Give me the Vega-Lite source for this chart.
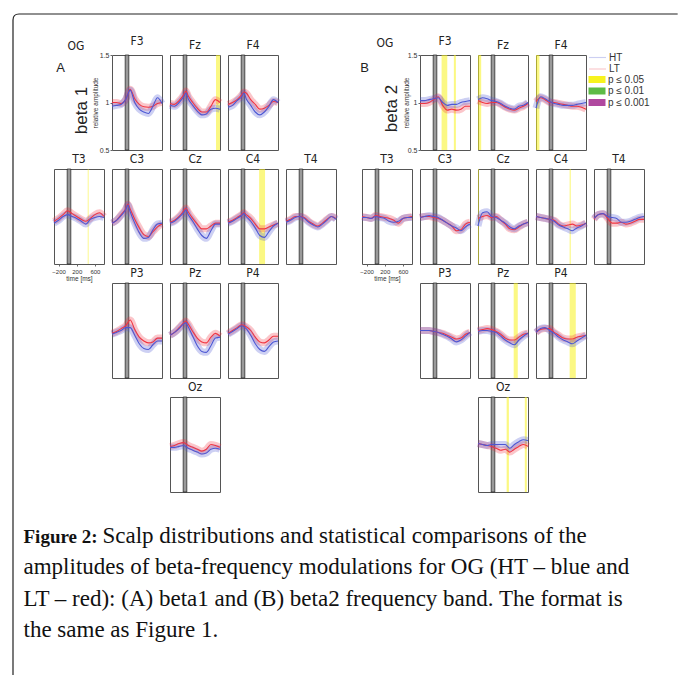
{
"$schema":"https://vega.github.io/schema/vega-lite/v6.json",
"padding":{"left":12,"top":13,"right":0,"bottom":0},
"background":"white",
"config":{
"view":{"continuousWidth":50,"continuousHeight":95,"stroke":"#555","strokeWidth":1},
"title":{"font":"Liberation Sans Narrow, DejaVu Sans Condensed, sans-serif","fontSize":12,"fontWeight":"normal","color":"#222","offset":3,"anchor":"middle","frame":"group"},
"axis":{"grid":false,"domain":false,"labelFont":"Liberation Sans Narrow, sans-serif","titleFont":"Liberation Sans Narrow, sans-serif","labelColor":"#333","titleColor":"#333","titleFontWeight":"normal","tickColor":"#666"},
"line":{"interpolate":"monotone","strokeWidth":1.1},
"rect":{"fill":"#9a9a9a","stroke":"#1a1a1a","strokeWidth":0.7},
"mark":{"invalid":"filter"},
"range":{"category":["#4d57d3","#f03442"]}
},
"datasets":{
"cap":[
{"ln":0,"b":1,"tx":"Figure 2:"},
{"ln":0,"b":0,"tx":"Scalp distributions and statistical comparisons of the"},
{"ln":1,"b":0,"tx":"amplitudes of beta-frequency modulations for OG (HT – blue and"},
{"ln":2,"b":0,"tx":"LT – red): (A) beta1 and (B) beta2 frequency band. The format is"},
{"ln":3,"b":0,"tx":"the same as Figure 1."}
],
"d":[
{"p":"AF3","g":"LT","t":-300,"v":1.0},{"p":"AF3","g":"LT","t":-200,"v":1.0},{"p":"AF3","g":"LT","t":-100,"v":0.99},{"p":"AF3","g":"LT","t":0,"v":1.03},{"p":"AF3","g":"LT","t":100,"v":1.14},{"p":"AF3","g":"LT","t":200,"v":1.04},{"p":"AF3","g":"LT","t":300,"v":0.98},{"p":"AF3","g":"LT","t":400,"v":0.955},{"p":"AF3","g":"LT","t":500,"v":0.95},{"p":"AF3","g":"LT","t":600,"v":0.96},{"p":"AF3","g":"LT","t":700,"v":0.99},{"p":"AF3","g":"LT","t":800,"v":1.0},
{"p":"AF3","g":"HT","t":-300,"v":0.96},{"p":"AF3","g":"HT","t":-200,"v":0.97},{"p":"AF3","g":"HT","t":-100,"v":0.98},{"p":"AF3","g":"HT","t":0,"v":1.03},{"p":"AF3","g":"HT","t":100,"v":1.13},{"p":"AF3","g":"HT","t":200,"v":1.0},{"p":"AF3","g":"HT","t":300,"v":0.93},{"p":"AF3","g":"HT","t":400,"v":0.9},{"p":"AF3","g":"HT","t":500,"v":0.885},{"p":"AF3","g":"HT","t":600,"v":0.96},{"p":"AF3","g":"HT","t":700,"v":1.05},{"p":"AF3","g":"HT","t":800,"v":0.99},
{"p":"AFz","g":"LT","t":-300,"v":0.99},{"p":"AFz","g":"LT","t":-200,"v":0.98},{"p":"AFz","g":"LT","t":-100,"v":1.02},{"p":"AFz","g":"LT","t":0,"v":1.08},{"p":"AFz","g":"LT","t":50,"v":1.12},{"p":"AFz","g":"LT","t":100,"v":1.07},{"p":"AFz","g":"LT","t":200,"v":1.0},{"p":"AFz","g":"LT","t":300,"v":0.94},{"p":"AFz","g":"LT","t":400,"v":0.9},{"p":"AFz","g":"LT","t":500,"v":0.9},{"p":"AFz","g":"LT","t":600,"v":0.96},{"p":"AFz","g":"LT","t":700,"v":1.03},{"p":"AFz","g":"LT","t":800,"v":1.0},
{"p":"AFz","g":"HT","t":-300,"v":0.97},{"p":"AFz","g":"HT","t":-200,"v":0.96},{"p":"AFz","g":"HT","t":-100,"v":1.0},{"p":"AFz","g":"HT","t":0,"v":1.06},{"p":"AFz","g":"HT","t":50,"v":1.1},{"p":"AFz","g":"HT","t":100,"v":1.04},{"p":"AFz","g":"HT","t":200,"v":0.97},{"p":"AFz","g":"HT","t":300,"v":0.91},{"p":"AFz","g":"HT","t":400,"v":0.87},{"p":"AFz","g":"HT","t":500,"v":0.88},{"p":"AFz","g":"HT","t":600,"v":0.93},{"p":"AFz","g":"HT","t":700,"v":0.94},{"p":"AFz","g":"HT","t":800,"v":0.93},
{"p":"AF4","g":"LT","t":-300,"v":0.98},{"p":"AF4","g":"LT","t":-200,"v":1.0},{"p":"AF4","g":"LT","t":-100,"v":1.03},{"p":"AF4","g":"LT","t":0,"v":1.08},{"p":"AF4","g":"LT","t":50,"v":1.11},{"p":"AF4","g":"LT","t":100,"v":1.1},{"p":"AF4","g":"LT","t":200,"v":1.03},{"p":"AF4","g":"LT","t":300,"v":0.98},{"p":"AF4","g":"LT","t":400,"v":0.93},{"p":"AF4","g":"LT","t":500,"v":0.94},{"p":"AF4","g":"LT","t":600,"v":0.97},{"p":"AF4","g":"LT","t":700,"v":1.01},{"p":"AF4","g":"LT","t":800,"v":1.0},
{"p":"AF4","g":"HT","t":-300,"v":0.95},{"p":"AF4","g":"HT","t":-200,"v":0.97},{"p":"AF4","g":"HT","t":-100,"v":1.02},{"p":"AF4","g":"HT","t":0,"v":1.06},{"p":"AF4","g":"HT","t":50,"v":1.1},{"p":"AF4","g":"HT","t":100,"v":1.04},{"p":"AF4","g":"HT","t":200,"v":0.97},{"p":"AF4","g":"HT","t":300,"v":0.9},{"p":"AF4","g":"HT","t":400,"v":0.87},{"p":"AF4","g":"HT","t":500,"v":0.9},{"p":"AF4","g":"HT","t":600,"v":0.96},{"p":"AF4","g":"HT","t":700,"v":1.03},{"p":"AF4","g":"HT","t":800,"v":1.0},
{"p":"AT3","g":"LT","t":-300,"v":0.95},{"p":"AT3","g":"LT","t":-200,"v":0.98},{"p":"AT3","g":"LT","t":-100,"v":1.02},{"p":"AT3","g":"LT","t":0,"v":1.06},{"p":"AT3","g":"LT","t":100,"v":1.03},{"p":"AT3","g":"LT","t":200,"v":1.0},{"p":"AT3","g":"LT","t":300,"v":0.97},{"p":"AT3","g":"LT","t":400,"v":0.95},{"p":"AT3","g":"LT","t":500,"v":0.98},{"p":"AT3","g":"LT","t":600,"v":1.02},{"p":"AT3","g":"LT","t":700,"v":1.04},{"p":"AT3","g":"LT","t":800,"v":1.0},
{"p":"AT3","g":"HT","t":-300,"v":0.93},{"p":"AT3","g":"HT","t":-200,"v":0.96},{"p":"AT3","g":"HT","t":-100,"v":1.0},{"p":"AT3","g":"HT","t":0,"v":1.02},{"p":"AT3","g":"HT","t":100,"v":1.0},{"p":"AT3","g":"HT","t":200,"v":0.98},{"p":"AT3","g":"HT","t":300,"v":0.95},{"p":"AT3","g":"HT","t":400,"v":0.92},{"p":"AT3","g":"HT","t":500,"v":0.97},{"p":"AT3","g":"HT","t":600,"v":0.99},{"p":"AT3","g":"HT","t":700,"v":1.0},{"p":"AT3","g":"HT","t":800,"v":0.99},
{"p":"AC3","g":"LT","t":-300,"v":0.93},{"p":"AC3","g":"LT","t":-200,"v":0.96},{"p":"AC3","g":"LT","t":-100,"v":1.02},{"p":"AC3","g":"LT","t":0,"v":1.08},{"p":"AC3","g":"LT","t":50,"v":1.13},{"p":"AC3","g":"LT","t":100,"v":1.08},{"p":"AC3","g":"LT","t":200,"v":0.97},{"p":"AC3","g":"LT","t":300,"v":0.88},{"p":"AC3","g":"LT","t":400,"v":0.81},{"p":"AC3","g":"LT","t":500,"v":0.79},{"p":"AC3","g":"LT","t":600,"v":0.84},{"p":"AC3","g":"LT","t":700,"v":0.89},{"p":"AC3","g":"LT","t":800,"v":0.92},
{"p":"AC3","g":"HT","t":-300,"v":0.93},{"p":"AC3","g":"HT","t":-200,"v":0.96},{"p":"AC3","g":"HT","t":-100,"v":1.01},{"p":"AC3","g":"HT","t":0,"v":1.07},{"p":"AC3","g":"HT","t":50,"v":1.12},{"p":"AC3","g":"HT","t":100,"v":1.05},{"p":"AC3","g":"HT","t":200,"v":0.93},{"p":"AC3","g":"HT","t":300,"v":0.83},{"p":"AC3","g":"HT","t":400,"v":0.77},{"p":"AC3","g":"HT","t":500,"v":0.78},{"p":"AC3","g":"HT","t":600,"v":0.86},{"p":"AC3","g":"HT","t":700,"v":0.92},{"p":"AC3","g":"HT","t":800,"v":0.93},
{"p":"ACz","g":"LT","t":-300,"v":0.94},{"p":"ACz","g":"LT","t":-200,"v":0.96},{"p":"ACz","g":"LT","t":-100,"v":1.0},{"p":"ACz","g":"LT","t":0,"v":1.06},{"p":"ACz","g":"LT","t":50,"v":1.09},{"p":"ACz","g":"LT","t":100,"v":1.05},{"p":"ACz","g":"LT","t":200,"v":0.98},{"p":"ACz","g":"LT","t":300,"v":0.92},{"p":"ACz","g":"LT","t":400,"v":0.87},{"p":"ACz","g":"LT","t":500,"v":0.87},{"p":"ACz","g":"LT","t":600,"v":0.9},{"p":"ACz","g":"LT","t":700,"v":0.93},{"p":"ACz","g":"LT","t":800,"v":0.93},
{"p":"ACz","g":"HT","t":-300,"v":0.93},{"p":"ACz","g":"HT","t":-200,"v":0.95},{"p":"ACz","g":"HT","t":-100,"v":0.99},{"p":"ACz","g":"HT","t":0,"v":1.04},{"p":"ACz","g":"HT","t":50,"v":1.07},{"p":"ACz","g":"HT","t":100,"v":1.02},{"p":"ACz","g":"HT","t":200,"v":0.95},{"p":"ACz","g":"HT","t":300,"v":0.87},{"p":"ACz","g":"HT","t":400,"v":0.8},{"p":"ACz","g":"HT","t":500,"v":0.77},{"p":"ACz","g":"HT","t":600,"v":0.85},{"p":"ACz","g":"HT","t":700,"v":0.92},{"p":"ACz","g":"HT","t":800,"v":0.92},
{"p":"AC4","g":"LT","t":-300,"v":0.94},{"p":"AC4","g":"LT","t":-200,"v":0.96},{"p":"AC4","g":"LT","t":-100,"v":0.99},{"p":"AC4","g":"LT","t":0,"v":1.02},{"p":"AC4","g":"LT","t":50,"v":1.04},{"p":"AC4","g":"LT","t":100,"v":1.02},{"p":"AC4","g":"LT","t":200,"v":0.98},{"p":"AC4","g":"LT","t":300,"v":0.92},{"p":"AC4","g":"LT","t":400,"v":0.87},{"p":"AC4","g":"LT","t":500,"v":0.87},{"p":"AC4","g":"LT","t":600,"v":0.89},{"p":"AC4","g":"LT","t":700,"v":0.91},{"p":"AC4","g":"LT","t":800,"v":0.93},
{"p":"AC4","g":"HT","t":-300,"v":0.93},{"p":"AC4","g":"HT","t":-200,"v":0.95},{"p":"AC4","g":"HT","t":-100,"v":0.98},{"p":"AC4","g":"HT","t":0,"v":1.01},{"p":"AC4","g":"HT","t":50,"v":1.03},{"p":"AC4","g":"HT","t":100,"v":1.0},{"p":"AC4","g":"HT","t":200,"v":0.95},{"p":"AC4","g":"HT","t":300,"v":0.88},{"p":"AC4","g":"HT","t":400,"v":0.8},{"p":"AC4","g":"HT","t":500,"v":0.78},{"p":"AC4","g":"HT","t":600,"v":0.84},{"p":"AC4","g":"HT","t":700,"v":0.9},{"p":"AC4","g":"HT","t":800,"v":0.93},
{"p":"AT4","g":"LT","t":-300,"v":0.95},{"p":"AT4","g":"LT","t":-200,"v":0.97},{"p":"AT4","g":"LT","t":-100,"v":1.0},{"p":"AT4","g":"LT","t":0,"v":1.0},{"p":"AT4","g":"LT","t":100,"v":0.99},{"p":"AT4","g":"LT","t":200,"v":0.95},{"p":"AT4","g":"LT","t":300,"v":0.92},{"p":"AT4","g":"LT","t":400,"v":0.9},{"p":"AT4","g":"LT","t":500,"v":0.93},{"p":"AT4","g":"LT","t":600,"v":0.97},{"p":"AT4","g":"LT","t":700,"v":1.0},{"p":"AT4","g":"LT","t":800,"v":0.98},
{"p":"AT4","g":"HT","t":-300,"v":0.94},{"p":"AT4","g":"HT","t":-200,"v":0.96},{"p":"AT4","g":"HT","t":-100,"v":0.99},{"p":"AT4","g":"HT","t":0,"v":1.0},{"p":"AT4","g":"HT","t":100,"v":0.98},{"p":"AT4","g":"HT","t":200,"v":0.94},{"p":"AT4","g":"HT","t":300,"v":0.91},{"p":"AT4","g":"HT","t":400,"v":0.89},{"p":"AT4","g":"HT","t":500,"v":0.92},{"p":"AT4","g":"HT","t":600,"v":0.96},{"p":"AT4","g":"HT","t":700,"v":1.0},{"p":"AT4","g":"HT","t":800,"v":0.97},
{"p":"AP3","g":"LT","t":-300,"v":0.97},{"p":"AP3","g":"LT","t":-200,"v":0.99},{"p":"AP3","g":"LT","t":-100,"v":1.02},{"p":"AP3","g":"LT","t":0,"v":1.05},{"p":"AP3","g":"LT","t":100,"v":1.11},{"p":"AP3","g":"LT","t":200,"v":1.01},{"p":"AP3","g":"LT","t":300,"v":0.93},{"p":"AP3","g":"LT","t":400,"v":0.89},{"p":"AP3","g":"LT","t":500,"v":0.87},{"p":"AP3","g":"LT","t":600,"v":0.88},{"p":"AP3","g":"LT","t":700,"v":0.92},{"p":"AP3","g":"LT","t":800,"v":0.92},
{"p":"AP3","g":"HT","t":-300,"v":0.96},{"p":"AP3","g":"HT","t":-200,"v":0.98},{"p":"AP3","g":"HT","t":-100,"v":1.0},{"p":"AP3","g":"HT","t":0,"v":1.03},{"p":"AP3","g":"HT","t":100,"v":1.03},{"p":"AP3","g":"HT","t":200,"v":0.95},{"p":"AP3","g":"HT","t":300,"v":0.86},{"p":"AP3","g":"HT","t":400,"v":0.81},{"p":"AP3","g":"HT","t":500,"v":0.8},{"p":"AP3","g":"HT","t":600,"v":0.85},{"p":"AP3","g":"HT","t":700,"v":0.89},{"p":"AP3","g":"HT","t":800,"v":0.89},
{"p":"APz","g":"LT","t":-300,"v":0.95},{"p":"APz","g":"LT","t":-200,"v":0.98},{"p":"APz","g":"LT","t":-100,"v":1.03},{"p":"APz","g":"LT","t":0,"v":1.08},{"p":"APz","g":"LT","t":50,"v":1.1},{"p":"APz","g":"LT","t":100,"v":1.07},{"p":"APz","g":"LT","t":200,"v":0.99},{"p":"APz","g":"LT","t":300,"v":0.92},{"p":"APz","g":"LT","t":400,"v":0.88},{"p":"APz","g":"LT","t":500,"v":0.87},{"p":"APz","g":"LT","t":600,"v":0.93},{"p":"APz","g":"LT","t":700,"v":0.97},{"p":"APz","g":"LT","t":800,"v":0.94},
{"p":"APz","g":"HT","t":-300,"v":0.95},{"p":"APz","g":"HT","t":-200,"v":0.98},{"p":"APz","g":"HT","t":-100,"v":1.02},{"p":"APz","g":"HT","t":0,"v":1.07},{"p":"APz","g":"HT","t":50,"v":1.08},{"p":"APz","g":"HT","t":100,"v":1.04},{"p":"APz","g":"HT","t":200,"v":0.94},{"p":"APz","g":"HT","t":300,"v":0.84},{"p":"APz","g":"HT","t":400,"v":0.78},{"p":"APz","g":"HT","t":500,"v":0.77},{"p":"APz","g":"HT","t":600,"v":0.84},{"p":"APz","g":"HT","t":700,"v":0.92},{"p":"APz","g":"HT","t":800,"v":0.93},
{"p":"AP4","g":"LT","t":-300,"v":0.97},{"p":"AP4","g":"LT","t":-200,"v":1.0},{"p":"AP4","g":"LT","t":-100,"v":1.03},{"p":"AP4","g":"LT","t":0,"v":1.06},{"p":"AP4","g":"LT","t":100,"v":1.04},{"p":"AP4","g":"LT","t":200,"v":1.0},{"p":"AP4","g":"LT","t":300,"v":0.93},{"p":"AP4","g":"LT","t":400,"v":0.88},{"p":"AP4","g":"LT","t":500,"v":0.87},{"p":"AP4","g":"LT","t":600,"v":0.9},{"p":"AP4","g":"LT","t":700,"v":0.94},{"p":"AP4","g":"LT","t":800,"v":0.94},
{"p":"AP4","g":"HT","t":-300,"v":0.96},{"p":"AP4","g":"HT","t":-200,"v":0.99},{"p":"AP4","g":"HT","t":-100,"v":1.02},{"p":"AP4","g":"HT","t":0,"v":1.05},{"p":"AP4","g":"HT","t":100,"v":1.02},{"p":"AP4","g":"HT","t":200,"v":0.95},{"p":"AP4","g":"HT","t":300,"v":0.86},{"p":"AP4","g":"HT","t":400,"v":0.8},{"p":"AP4","g":"HT","t":500,"v":0.78},{"p":"AP4","g":"HT","t":600,"v":0.83},{"p":"AP4","g":"HT","t":700,"v":0.88},{"p":"AP4","g":"HT","t":800,"v":0.89},
{"p":"AOz","g":"LT","t":-300,"v":0.98},{"p":"AOz","g":"LT","t":-200,"v":0.99},{"p":"AOz","g":"LT","t":-100,"v":1.01},{"p":"AOz","g":"LT","t":0,"v":1.02},{"p":"AOz","g":"LT","t":100,"v":0.99},{"p":"AOz","g":"LT","t":200,"v":0.97},{"p":"AOz","g":"LT","t":300,"v":0.95},{"p":"AOz","g":"LT","t":400,"v":0.93},{"p":"AOz","g":"LT","t":500,"v":0.95},{"p":"AOz","g":"LT","t":600,"v":1.0},{"p":"AOz","g":"LT","t":700,"v":0.99},{"p":"AOz","g":"LT","t":800,"v":0.97},
{"p":"AOz","g":"HT","t":-300,"v":0.97},{"p":"AOz","g":"HT","t":-200,"v":0.97},{"p":"AOz","g":"HT","t":-100,"v":0.98},{"p":"AOz","g":"HT","t":0,"v":0.99},{"p":"AOz","g":"HT","t":100,"v":0.96},{"p":"AOz","g":"HT","t":200,"v":0.94},{"p":"AOz","g":"HT","t":300,"v":0.92},{"p":"AOz","g":"HT","t":400,"v":0.9},{"p":"AOz","g":"HT","t":500,"v":0.91},{"p":"AOz","g":"HT","t":600,"v":0.95},{"p":"AOz","g":"HT","t":700,"v":0.96},{"p":"AOz","g":"HT","t":800,"v":0.95},
{"p":"BF3","g":"LT","t":-300,"v":0.99},{"p":"BF3","g":"LT","t":-200,"v":0.99},{"p":"BF3","g":"LT","t":-100,"v":1.0},{"p":"BF3","g":"LT","t":0,"v":1.03},{"p":"BF3","g":"LT","t":100,"v":1.06},{"p":"BF3","g":"LT","t":200,"v":0.97},{"p":"BF3","g":"LT","t":300,"v":0.92},{"p":"BF3","g":"LT","t":400,"v":0.93},{"p":"BF3","g":"LT","t":500,"v":0.92},{"p":"BF3","g":"LT","t":600,"v":0.93},{"p":"BF3","g":"LT","t":700,"v":0.96},{"p":"BF3","g":"LT","t":800,"v":0.96},
{"p":"BF3","g":"HT","t":-300,"v":1.02},{"p":"BF3","g":"HT","t":-200,"v":1.02},{"p":"BF3","g":"HT","t":-100,"v":1.03},{"p":"BF3","g":"HT","t":0,"v":1.04},{"p":"BF3","g":"HT","t":100,"v":1.05},{"p":"BF3","g":"HT","t":200,"v":1.0},{"p":"BF3","g":"HT","t":300,"v":0.97},{"p":"BF3","g":"HT","t":400,"v":0.98},{"p":"BF3","g":"HT","t":500,"v":0.98},{"p":"BF3","g":"HT","t":600,"v":1.0},{"p":"BF3","g":"HT","t":700,"v":1.01},{"p":"BF3","g":"HT","t":800,"v":1.02},
{"p":"BFz","g":"LT","t":-300,"v":1.02},{"p":"BFz","g":"LT","t":-200,"v":1.0},{"p":"BFz","g":"LT","t":-100,"v":0.99},{"p":"BFz","g":"LT","t":0,"v":1.0},{"p":"BFz","g":"LT","t":100,"v":1.0},{"p":"BFz","g":"LT","t":200,"v":0.98},{"p":"BFz","g":"LT","t":300,"v":0.95},{"p":"BFz","g":"LT","t":400,"v":0.93},{"p":"BFz","g":"LT","t":500,"v":0.92},{"p":"BFz","g":"LT","t":600,"v":0.94},{"p":"BFz","g":"LT","t":700,"v":0.96},{"p":"BFz","g":"LT","t":800,"v":0.99},
{"p":"BFz","g":"HT","t":-300,"v":1.03},{"p":"BFz","g":"HT","t":-200,"v":1.05},{"p":"BFz","g":"HT","t":-100,"v":1.04},{"p":"BFz","g":"HT","t":0,"v":1.02},{"p":"BFz","g":"HT","t":100,"v":1.01},{"p":"BFz","g":"HT","t":200,"v":0.99},{"p":"BFz","g":"HT","t":300,"v":0.96},{"p":"BFz","g":"HT","t":400,"v":0.94},{"p":"BFz","g":"HT","t":500,"v":0.93},{"p":"BFz","g":"HT","t":600,"v":0.96},{"p":"BFz","g":"HT","t":700,"v":0.97},{"p":"BFz","g":"HT","t":800,"v":1.0},
{"p":"BF4","g":"LT","t":-300,"v":1.01},{"p":"BF4","g":"LT","t":-200,"v":1.05},{"p":"BF4","g":"LT","t":-100,"v":1.03},{"p":"BF4","g":"LT","t":0,"v":1.0},{"p":"BF4","g":"LT","t":100,"v":1.0},{"p":"BF4","g":"LT","t":200,"v":0.99},{"p":"BF4","g":"LT","t":300,"v":0.98},{"p":"BF4","g":"LT","t":400,"v":0.97},{"p":"BF4","g":"LT","t":500,"v":0.96},{"p":"BF4","g":"LT","t":600,"v":0.96},{"p":"BF4","g":"LT","t":700,"v":0.95},{"p":"BF4","g":"LT","t":800,"v":0.93},
{"p":"BF4","g":"HT","t":-300,"v":0.94},{"p":"BF4","g":"HT","t":-200,"v":1.06},{"p":"BF4","g":"HT","t":-100,"v":1.04},{"p":"BF4","g":"HT","t":0,"v":1.01},{"p":"BF4","g":"HT","t":100,"v":0.99},{"p":"BF4","g":"HT","t":200,"v":0.98},{"p":"BF4","g":"HT","t":300,"v":0.97},{"p":"BF4","g":"HT","t":400,"v":0.97},{"p":"BF4","g":"HT","t":500,"v":0.97},{"p":"BF4","g":"HT","t":600,"v":0.98},{"p":"BF4","g":"HT","t":700,"v":0.99},{"p":"BF4","g":"HT","t":800,"v":1.0},
{"p":"BT3","g":"LT","t":-300,"v":1.0},{"p":"BT3","g":"LT","t":-200,"v":0.99},{"p":"BT3","g":"LT","t":-100,"v":0.98},{"p":"BT3","g":"LT","t":0,"v":1.01},{"p":"BT3","g":"LT","t":100,"v":1.0},{"p":"BT3","g":"LT","t":200,"v":0.99},{"p":"BT3","g":"LT","t":300,"v":0.98},{"p":"BT3","g":"LT","t":400,"v":0.96},{"p":"BT3","g":"LT","t":500,"v":0.93},{"p":"BT3","g":"LT","t":600,"v":0.98},{"p":"BT3","g":"LT","t":700,"v":0.99},{"p":"BT3","g":"LT","t":800,"v":1.0},
{"p":"BT3","g":"HT","t":-300,"v":0.99},{"p":"BT3","g":"HT","t":-200,"v":0.99},{"p":"BT3","g":"HT","t":-100,"v":0.98},{"p":"BT3","g":"HT","t":0,"v":1.0},{"p":"BT3","g":"HT","t":100,"v":0.99},{"p":"BT3","g":"HT","t":200,"v":0.98},{"p":"BT3","g":"HT","t":300,"v":0.95},{"p":"BT3","g":"HT","t":400,"v":0.94},{"p":"BT3","g":"HT","t":500,"v":0.95},{"p":"BT3","g":"HT","t":600,"v":0.98},{"p":"BT3","g":"HT","t":700,"v":0.99},{"p":"BT3","g":"HT","t":800,"v":0.99},
{"p":"BC3","g":"LT","t":-300,"v":0.99},{"p":"BC3","g":"LT","t":-200,"v":1.0},{"p":"BC3","g":"LT","t":-100,"v":1.0},{"p":"BC3","g":"LT","t":0,"v":0.99},{"p":"BC3","g":"LT","t":100,"v":0.98},{"p":"BC3","g":"LT","t":200,"v":0.96},{"p":"BC3","g":"LT","t":300,"v":0.93},{"p":"BC3","g":"LT","t":400,"v":0.9},{"p":"BC3","g":"LT","t":500,"v":0.85},{"p":"BC3","g":"LT","t":600,"v":0.86},{"p":"BC3","g":"LT","t":700,"v":0.92},{"p":"BC3","g":"LT","t":800,"v":0.94},
{"p":"BC3","g":"HT","t":-300,"v":0.99},{"p":"BC3","g":"HT","t":-200,"v":1.0},{"p":"BC3","g":"HT","t":-100,"v":1.01},{"p":"BC3","g":"HT","t":0,"v":1.0},{"p":"BC3","g":"HT","t":100,"v":0.99},{"p":"BC3","g":"HT","t":200,"v":0.96},{"p":"BC3","g":"HT","t":300,"v":0.93},{"p":"BC3","g":"HT","t":400,"v":0.9},{"p":"BC3","g":"HT","t":500,"v":0.88},{"p":"BC3","g":"HT","t":600,"v":0.85},{"p":"BC3","g":"HT","t":700,"v":0.89},{"p":"BC3","g":"HT","t":800,"v":0.92},
{"p":"BCz","g":"LT","t":-300,"v":0.98},{"p":"BCz","g":"LT","t":-200,"v":1.0},{"p":"BCz","g":"LT","t":-100,"v":1.01},{"p":"BCz","g":"LT","t":0,"v":0.99},{"p":"BCz","g":"LT","t":100,"v":1.0},{"p":"BCz","g":"LT","t":200,"v":0.96},{"p":"BCz","g":"LT","t":300,"v":0.92},{"p":"BCz","g":"LT","t":400,"v":0.87},{"p":"BCz","g":"LT","t":500,"v":0.86},{"p":"BCz","g":"LT","t":600,"v":0.89},{"p":"BCz","g":"LT","t":700,"v":0.92},{"p":"BCz","g":"LT","t":800,"v":0.94},
{"p":"BCz","g":"HT","t":-300,"v":0.9},{"p":"BCz","g":"HT","t":-200,"v":1.04},{"p":"BCz","g":"HT","t":-100,"v":1.05},{"p":"BCz","g":"HT","t":0,"v":1.0},{"p":"BCz","g":"HT","t":100,"v":0.99},{"p":"BCz","g":"HT","t":200,"v":0.96},{"p":"BCz","g":"HT","t":300,"v":0.93},{"p":"BCz","g":"HT","t":400,"v":0.89},{"p":"BCz","g":"HT","t":500,"v":0.87},{"p":"BCz","g":"HT","t":600,"v":0.9},{"p":"BCz","g":"HT","t":700,"v":0.92},{"p":"BCz","g":"HT","t":800,"v":0.94},
{"p":"BC4","g":"LT","t":-300,"v":1.0},{"p":"BC4","g":"LT","t":-200,"v":0.99},{"p":"BC4","g":"LT","t":-100,"v":0.98},{"p":"BC4","g":"LT","t":0,"v":0.97},{"p":"BC4","g":"LT","t":100,"v":0.96},{"p":"BC4","g":"LT","t":200,"v":0.92},{"p":"BC4","g":"LT","t":300,"v":0.9},{"p":"BC4","g":"LT","t":400,"v":0.91},{"p":"BC4","g":"LT","t":500,"v":0.92},{"p":"BC4","g":"LT","t":600,"v":0.9},{"p":"BC4","g":"LT","t":700,"v":0.91},{"p":"BC4","g":"LT","t":800,"v":0.93},
{"p":"BC4","g":"HT","t":-300,"v":1.0},{"p":"BC4","g":"HT","t":-200,"v":0.99},{"p":"BC4","g":"HT","t":-100,"v":0.98},{"p":"BC4","g":"HT","t":0,"v":0.97},{"p":"BC4","g":"HT","t":100,"v":0.95},{"p":"BC4","g":"HT","t":200,"v":0.91},{"p":"BC4","g":"HT","t":300,"v":0.89},{"p":"BC4","g":"HT","t":400,"v":0.87},{"p":"BC4","g":"HT","t":500,"v":0.85},{"p":"BC4","g":"HT","t":600,"v":0.88},{"p":"BC4","g":"HT","t":700,"v":0.9},{"p":"BC4","g":"HT","t":800,"v":0.93},
{"p":"BT4","g":"LT","t":-300,"v":0.97},{"p":"BT4","g":"LT","t":-200,"v":1.02},{"p":"BT4","g":"LT","t":-100,"v":1.03},{"p":"BT4","g":"LT","t":0,"v":0.98},{"p":"BT4","g":"LT","t":100,"v":0.93},{"p":"BT4","g":"LT","t":200,"v":0.93},{"p":"BT4","g":"LT","t":300,"v":0.94},{"p":"BT4","g":"LT","t":400,"v":0.92},{"p":"BT4","g":"LT","t":500,"v":0.93},{"p":"BT4","g":"LT","t":600,"v":0.95},{"p":"BT4","g":"LT","t":700,"v":0.97},{"p":"BT4","g":"LT","t":800,"v":0.97},
{"p":"BT4","g":"HT","t":-300,"v":0.98},{"p":"BT4","g":"HT","t":-200,"v":1.02},{"p":"BT4","g":"HT","t":-100,"v":1.03},{"p":"BT4","g":"HT","t":0,"v":1.0},{"p":"BT4","g":"HT","t":100,"v":0.99},{"p":"BT4","g":"HT","t":200,"v":0.98},{"p":"BT4","g":"HT","t":300,"v":0.94},{"p":"BT4","g":"HT","t":400,"v":0.94},{"p":"BT4","g":"HT","t":500,"v":0.95},{"p":"BT4","g":"HT","t":600,"v":0.97},{"p":"BT4","g":"HT","t":700,"v":0.99},{"p":"BT4","g":"HT","t":800,"v":1.0},
{"p":"BP3","g":"LT","t":-300,"v":1.0},{"p":"BP3","g":"LT","t":-200,"v":1.0},{"p":"BP3","g":"LT","t":-100,"v":1.0},{"p":"BP3","g":"LT","t":0,"v":0.99},{"p":"BP3","g":"LT","t":100,"v":0.98},{"p":"BP3","g":"LT","t":200,"v":0.97},{"p":"BP3","g":"LT","t":300,"v":0.95},{"p":"BP3","g":"LT","t":400,"v":0.93},{"p":"BP3","g":"LT","t":500,"v":0.91},{"p":"BP3","g":"LT","t":600,"v":0.92},{"p":"BP3","g":"LT","t":700,"v":0.96},{"p":"BP3","g":"LT","t":800,"v":0.98},
{"p":"BP3","g":"HT","t":-300,"v":1.0},{"p":"BP3","g":"HT","t":-200,"v":1.0},{"p":"BP3","g":"HT","t":-100,"v":1.0},{"p":"BP3","g":"HT","t":0,"v":0.99},{"p":"BP3","g":"HT","t":100,"v":0.98},{"p":"BP3","g":"HT","t":200,"v":0.96},{"p":"BP3","g":"HT","t":300,"v":0.94},{"p":"BP3","g":"HT","t":400,"v":0.91},{"p":"BP3","g":"HT","t":500,"v":0.88},{"p":"BP3","g":"HT","t":600,"v":0.9},{"p":"BP3","g":"HT","t":700,"v":0.94},{"p":"BP3","g":"HT","t":800,"v":0.98},
{"p":"BPz","g":"LT","t":-300,"v":1.0},{"p":"BPz","g":"LT","t":-200,"v":1.01},{"p":"BPz","g":"LT","t":-100,"v":1.02},{"p":"BPz","g":"LT","t":0,"v":1.01},{"p":"BPz","g":"LT","t":100,"v":0.99},{"p":"BPz","g":"LT","t":200,"v":0.96},{"p":"BPz","g":"LT","t":300,"v":0.92},{"p":"BPz","g":"LT","t":400,"v":0.9},{"p":"BPz","g":"LT","t":500,"v":0.9},{"p":"BPz","g":"LT","t":600,"v":0.93},{"p":"BPz","g":"LT","t":700,"v":0.96},{"p":"BPz","g":"LT","t":800,"v":0.97},
{"p":"BPz","g":"HT","t":-300,"v":0.99},{"p":"BPz","g":"HT","t":-200,"v":1.0},{"p":"BPz","g":"HT","t":-100,"v":1.0},{"p":"BPz","g":"HT","t":0,"v":0.99},{"p":"BPz","g":"HT","t":100,"v":0.98},{"p":"BPz","g":"HT","t":200,"v":0.94},{"p":"BPz","g":"HT","t":300,"v":0.9},{"p":"BPz","g":"HT","t":400,"v":0.87},{"p":"BPz","g":"HT","t":500,"v":0.85},{"p":"BPz","g":"HT","t":600,"v":0.9},{"p":"BPz","g":"HT","t":700,"v":0.94},{"p":"BPz","g":"HT","t":800,"v":0.97},
{"p":"BP4","g":"LT","t":-300,"v":0.98},{"p":"BP4","g":"LT","t":-200,"v":1.01},{"p":"BP4","g":"LT","t":-100,"v":1.02},{"p":"BP4","g":"LT","t":0,"v":1.02},{"p":"BP4","g":"LT","t":100,"v":0.98},{"p":"BP4","g":"LT","t":200,"v":0.95},{"p":"BP4","g":"LT","t":300,"v":0.92},{"p":"BP4","g":"LT","t":400,"v":0.91},{"p":"BP4","g":"LT","t":500,"v":0.91},{"p":"BP4","g":"LT","t":600,"v":0.93},{"p":"BP4","g":"LT","t":700,"v":0.94},{"p":"BP4","g":"LT","t":800,"v":0.95},
{"p":"BP4","g":"HT","t":-300,"v":0.98},{"p":"BP4","g":"HT","t":-200,"v":1.02},{"p":"BP4","g":"HT","t":-100,"v":1.03},{"p":"BP4","g":"HT","t":0,"v":1.0},{"p":"BP4","g":"HT","t":100,"v":0.97},{"p":"BP4","g":"HT","t":200,"v":0.93},{"p":"BP4","g":"HT","t":300,"v":0.9},{"p":"BP4","g":"HT","t":400,"v":0.88},{"p":"BP4","g":"HT","t":500,"v":0.86},{"p":"BP4","g":"HT","t":600,"v":0.89},{"p":"BP4","g":"HT","t":700,"v":0.92},{"p":"BP4","g":"HT","t":800,"v":0.95},
{"p":"BOz","g":"LT","t":-300,"v":1.01},{"p":"BOz","g":"LT","t":-200,"v":1.0},{"p":"BOz","g":"LT","t":-100,"v":0.99},{"p":"BOz","g":"LT","t":0,"v":0.98},{"p":"BOz","g":"LT","t":100,"v":0.96},{"p":"BOz","g":"LT","t":200,"v":0.94},{"p":"BOz","g":"LT","t":300,"v":0.95},{"p":"BOz","g":"LT","t":400,"v":0.92},{"p":"BOz","g":"LT","t":500,"v":0.95},{"p":"BOz","g":"LT","t":600,"v":0.98},{"p":"BOz","g":"LT","t":700,"v":1.0},{"p":"BOz","g":"LT","t":800,"v":0.98},
{"p":"BOz","g":"HT","t":-300,"v":1.01},{"p":"BOz","g":"HT","t":-200,"v":1.0},{"p":"BOz","g":"HT","t":-100,"v":0.99},{"p":"BOz","g":"HT","t":0,"v":1.0},{"p":"BOz","g":"HT","t":100,"v":1.0},{"p":"BOz","g":"HT","t":200,"v":1.0},{"p":"BOz","g":"HT","t":300,"v":1.0},{"p":"BOz","g":"HT","t":400,"v":0.96},{"p":"BOz","g":"HT","t":500,"v":1.0},{"p":"BOz","g":"HT","t":600,"v":1.03},{"p":"BOz","g":"HT","t":700,"v":1.05},{"p":"BOz","g":"HT","t":800,"v":1.04},
{"p":"AF3","s0":-10,"s1":70},{"p":"AFz","s0":-10,"s1":70},{"p":"AF4","s0":-10,"s1":70},{"p":"AT3","s0":-10,"s1":70},{"p":"AC3","s0":-10,"s1":70},{"p":"ACz","s0":-10,"s1":70},{"p":"AC4","s0":-10,"s1":70},{"p":"AT4","s0":-10,"s1":70},{"p":"AP3","s0":-10,"s1":70},{"p":"APz","s0":-10,"s1":70},{"p":"AP4","s0":-10,"s1":70},{"p":"AOz","s0":-10,"s1":70},
{"p":"BF3","s0":-10,"s1":70},{"p":"BFz","s0":-10,"s1":70},{"p":"BF4","s0":-10,"s1":70},{"p":"BT3","s0":-10,"s1":70},{"p":"BC3","s0":-10,"s1":70},{"p":"BCz","s0":-10,"s1":70},{"p":"BC4","s0":-10,"s1":70},{"p":"BT4","s0":-10,"s1":70},{"p":"BP3","s0":-10,"s1":70},{"p":"BPz","s0":-10,"s1":70},{"p":"BP4","s0":-10,"s1":70},{"p":"BOz","s0":-10,"s1":70},
{"p":"AFz","t0":712,"t1":800,"lv":"p ≤ 0.05"},{"p":"AT3","t0":442,"t1":462,"lv":"p ≤ 0.05"},{"p":"AC4","t0":385,"t1":515,"lv":"p ≤ 0.05"},
{"p":"BF3","t0":175,"t1":300,"lv":"p ≤ 0.05"},{"p":"BF3","t0":445,"t1":490,"lv":"p ≤ 0.05"},{"p":"BFz","t0":-300,"t1":-230,"lv":"p ≤ 0.05"},{"p":"BF4","t0":-300,"t1":-225,"lv":"p ≤ 0.05"},{"p":"BCz","t0":-300,"t1":-280,"lv":"p ≤ 0.05"},{"p":"BC4","t0":440,"t1":465,"lv":"p ≤ 0.05"},{"p":"BPz","t0":485,"t1":575,"lv":"p ≤ 0.05"},{"p":"BP4","t0":440,"t1":575,"lv":"p ≤ 0.05"},{"p":"BOz","t0":330,"t1":380,"lv":"p ≤ 0.05"},{"p":"BOz","t0":730,"t1":775,"lv":"p ≤ 0.05"}
]
},
"columns":11,
"spacing":{"row":19,"column":8},
"bounds":"flush",
"concat":[
{"width":50,"height":95,"title":{"text":"OG","dx":-3,"offset":-1},"view":{"stroke":null},"data":{"values":[{}]},"mark":{"type":"point","opacity":0},"encoding":{"x":{"datum":0,"type":"quantitative","axis":{"orient":"top","labels":false,"ticks":false,"title":"A","titleAngle":0,"titleX":6,"titleY":12.5,"titleFontSize":13,"titleFont":"Liberation Sans","titleAlign":"center","titleBaseline":"middle","titleColor":"#222"}},"y":{"datum":0,"type":"quantitative","axis":{"labels":false,"ticks":false,"title":"beta 1","titleX":27.5,"titleY":55,"titleAngle":-90,"titleFontSize":17,"titleFont":"Liberation Sans","titleAlign":"center","titleBaseline":"middle","titleColor":"#222"}},"shape":{"datum":"frame","scale":{"range":["M0.99,-1H-0.982Q-1,-1 -1,-0.982V0.979"]},"legend":{"orient":"none","legendX":-42,"legendY":-42,"title":null,"padding":0,"symbolSize":446224,"symbolOpacity":1,"symbolStrokeColor":"#222","symbolStrokeWidth":1.2,"symbolFillColor":"transparent","labelExpr":"''","labelOffset":0}}}},
{"title":"F3","data":{"name":"d"},"transform":[{"filter":"datum.p=='AF3'"}],"layer":[
{"mark":{"type":"rect","fill":"#f7f31e","fillOpacity":0.55,"stroke":null},"encoding":{"x":{"field":"t0","type":"quantitative","scale":{"domain":[-300,800],"nice":false},"axis":null},"x2":{"field":"t1"}}},
{"mark":"rect","encoding":{"x":{"field":"s0","type":"quantitative","axis":null},"x2":{"field":"s1"}}},
{"mark":{"type":"line","strokeWidth":7,"opacity":0.28},"encoding":{"x":{"field":"t","type":"quantitative","axis":null},"y":{"field":"v","type":"quantitative","scale":{"domain":[0.5,1.5],"zero":false,"nice":false}},"stroke":{"field":"g"}}},
{"mark":"line","encoding":{"x":{"field":"t","type":"quantitative","axis":null},"y":{"field":"v","type":"quantitative","axis":{"values":[0.5,1,1.5],"format":"~g","labels":true,"ticks":true,"tickSize":2,"labelFontSize":7,"labelPadding":1,"title":"relative amplitude","titleFontSize":6.5,"titleX":-17,"titleY":47.5,"titleAngle":-90,"titleAlign":"center","titleBaseline":"middle"}},"stroke":{"field":"g"}}}]},
{"title":"Fz","data":{"name":"d"},"transform":[{"filter":"datum.p=='AFz'"}],"layer":[
{"mark":{"type":"rect","fill":"#f7f31e","fillOpacity":0.55,"stroke":null},"encoding":{"x":{"field":"t0","type":"quantitative","scale":{"domain":[-300,800],"nice":false},"axis":null},"x2":{"field":"t1"}}},
{"mark":"rect","encoding":{"x":{"field":"s0","type":"quantitative","axis":null},"x2":{"field":"s1"}}},
{"mark":{"type":"line","strokeWidth":7,"opacity":0.28},"encoding":{"x":{"field":"t","type":"quantitative","axis":null},"y":{"field":"v","type":"quantitative","scale":{"domain":[0.5,1.5],"zero":false,"nice":false},"axis":null},"stroke":{"field":"g"}}},
{"mark":"line","encoding":{"x":{"field":"t","type":"quantitative","axis":null},"y":{"field":"v","type":"quantitative","axis":null},"stroke":{"field":"g"}}}]},
{"title":"F4","data":{"name":"d"},"transform":[{"filter":"datum.p=='AF4'"}],"layer":[
{"mark":{"type":"rect","fill":"#f7f31e","fillOpacity":0.55,"stroke":null},"encoding":{"x":{"field":"t0","type":"quantitative","scale":{"domain":[-300,800],"nice":false},"axis":null},"x2":{"field":"t1"}}},
{"mark":"rect","encoding":{"x":{"field":"s0","type":"quantitative","axis":null},"x2":{"field":"s1"}}},
{"mark":{"type":"line","strokeWidth":7,"opacity":0.28},"encoding":{"x":{"field":"t","type":"quantitative","axis":null},"y":{"field":"v","type":"quantitative","scale":{"domain":[0.5,1.5],"zero":false,"nice":false},"axis":null},"stroke":{"field":"g"}}},
{"mark":"line","encoding":{"x":{"field":"t","type":"quantitative","axis":null},"y":{"field":"v","type":"quantitative","axis":null},"stroke":{"field":"g"}}}]},
{"width":1,"height":1,"view":{"stroke":null},"data":{"values":[{}]},"mark":{"type":"text","text":""}},
{"width":10,"height":1,"view":{"stroke":null},"data":{"values":[{}]},"mark":{"type":"text","text":""}},
{"width":50,"height":95,"title":{"text":"OG","dx":-2,"offset":-1},"view":{"stroke":null},"data":{"values":[{}]},"mark":{"type":"text","text":""},"encoding":{"x":{"datum":0,"type":"quantitative","axis":{"orient":"top","labels":false,"ticks":false,"title":"B","titleAngle":0,"titleX":2,"titleY":12,"titleFontSize":13,"titleFont":"Liberation Sans","titleAlign":"center","titleBaseline":"middle","titleColor":"#222"}},"y":{"datum":0,"type":"quantitative","axis":{"labels":false,"ticks":false,"title":"beta 2","titleX":29,"titleY":53,"titleAngle":-90,"titleFontSize":17,"titleFont":"Liberation Sans","titleAlign":"center","titleBaseline":"middle","titleColor":"#222"}}}},
{"title":"F3","data":{"name":"d"},"transform":[{"filter":"datum.p=='BF3'"}],"layer":[
{"mark":{"type":"rect","fill":"#f7f31e","fillOpacity":0.55,"stroke":null},"encoding":{"x":{"field":"t0","type":"quantitative","scale":{"domain":[-300,800],"nice":false},"axis":null},"x2":{"field":"t1"}}},
{"mark":"rect","encoding":{"x":{"field":"s0","type":"quantitative","axis":null},"x2":{"field":"s1"}}},
{"mark":{"type":"line","strokeWidth":7,"opacity":0.28},"encoding":{"x":{"field":"t","type":"quantitative","axis":null},"y":{"field":"v","type":"quantitative","scale":{"domain":[0.5,1.5],"zero":false,"nice":false}},"stroke":{"field":"g"}}},
{"mark":"line","encoding":{"x":{"field":"t","type":"quantitative","axis":null},"y":{"field":"v","type":"quantitative","axis":{"values":[0.5,1,1.5],"format":"~g","labels":true,"ticks":true,"tickSize":2,"labelFontSize":7,"labelPadding":1,"title":"relative amplitude","titleFontSize":6.5,"titleX":-14,"titleY":47.5,"titleAngle":-90,"titleAlign":"center","titleBaseline":"middle"}},"stroke":{"field":"g"}}}]},
{"title":"Fz","data":{"name":"d"},"transform":[{"filter":"datum.p=='BFz'"}],"layer":[
{"mark":{"type":"rect","fill":"#f7f31e","fillOpacity":0.55,"stroke":null},"encoding":{"x":{"field":"t0","type":"quantitative","scale":{"domain":[-300,800],"nice":false},"axis":null},"x2":{"field":"t1"}}},
{"mark":"rect","encoding":{"x":{"field":"s0","type":"quantitative","axis":null},"x2":{"field":"s1"}}},
{"mark":{"type":"line","strokeWidth":7,"opacity":0.28},"encoding":{"x":{"field":"t","type":"quantitative","axis":null},"y":{"field":"v","type":"quantitative","scale":{"domain":[0.5,1.5],"zero":false,"nice":false},"axis":null},"stroke":{"field":"g"}}},
{"mark":"line","encoding":{"x":{"field":"t","type":"quantitative","axis":null},"y":{"field":"v","type":"quantitative","axis":null},"stroke":{"field":"g"}}}]},
{"title":"F4","data":{"name":"d"},"transform":[{"filter":"datum.p=='BF4'"}],"layer":[
{"mark":{"type":"rect","fillOpacity":0.55,"stroke":null},"encoding":{"x":{"field":"t0","type":"quantitative","scale":{"domain":[-300,800],"nice":false},"axis":null},"x2":{"field":"t1"},"fill":{"field":"lv","type":"nominal","scale":{"domain":["p ≤ 0.05","p ≤ 0.01","p ≤ 0.001"],"range":["#f7f31e","#5dbb46","#b0489f"]},"legend":{"orient":"none","legendX":537.5,"legendY":19,"title":null,"padding":0,"symbolType":"M-1.7,-0.7H1.7V0.7H-1.7Z","symbolSize":100,"symbolStrokeWidth":0,"symbolOpacity":1,"labelFontSize":10,"labelFont":"Liberation Sans Narrow, sans-serif","labelColor":"#333","rowPadding":0.5,"labelOffset":5.5}}}},
{"mark":"rect","encoding":{"x":{"field":"s0","type":"quantitative","axis":null},"x2":{"field":"s1"}}},
{"mark":{"type":"line","strokeWidth":7,"opacity":0.28},"encoding":{"x":{"field":"t","type":"quantitative","axis":null},"y":{"field":"v","type":"quantitative","scale":{"domain":[0.5,1.5],"zero":false,"nice":false},"axis":null},"stroke":{"field":"g"}}},
{"mark":"line","encoding":{"x":{"field":"t","type":"quantitative","axis":null},"y":{"field":"v","type":"quantitative","axis":null},"stroke":{"field":"g","scale":{"domain":["HT","LT"],"range":["#4d57d3","#f03442"]},"legend":{"orient":"none","legendX":537.5,"legendY":-3.5,"title":null,"padding":0,"symbolType":"M-1.7,0H1.7","symbolSize":100,"symbolOpacity":1,"symbolStrokeWidth":1.2,"labelFontSize":10,"labelFont":"Liberation Sans Narrow, sans-serif","labelColor":"#333","rowPadding":0.5,"labelOffset":5.5}}}}]},
{"width":1,"height":1,"view":{"stroke":null},"data":{"values":[{}]},"mark":{"type":"text","text":""}},
{"title":"T3","data":{"name":"d"},"transform":[{"filter":"datum.p=='AT3'"}],"layer":[
{"mark":{"type":"rect","fill":"#f7f31e","fillOpacity":0.55,"stroke":null},"encoding":{"x":{"field":"t0","type":"quantitative","scale":{"domain":[-300,800],"nice":false},"axis":{"values":[-200,200,600],"labels":true,"labelOverlap":false,"labelFlush":false,"labelBound":false,"ticks":true,"tickSize":2,"labelFontSize":6,"labelPadding":2,"title":"time [ms]","titleFontSize":6.5,"titlePadding":1}},"x2":{"field":"t1"}}},
{"mark":"rect","encoding":{"x":{"field":"s0","type":"quantitative","axis":{"values":[-200,200,600],"labels":true,"labelOverlap":false,"labelFlush":false,"labelBound":false,"ticks":true,"tickSize":2,"labelFontSize":6,"labelPadding":2,"title":"time [ms]","titleFontSize":6.5,"titlePadding":1}},"x2":{"field":"s1"}}},
{"mark":{"type":"line","strokeWidth":7,"opacity":0.28},"encoding":{"x":{"field":"t","type":"quantitative","axis":{"values":[-200,200,600],"labels":true,"labelOverlap":false,"labelFlush":false,"labelBound":false,"ticks":true,"tickSize":2,"labelFontSize":6,"labelPadding":2,"title":"time [ms]","titleFontSize":6.5,"titlePadding":1}},"y":{"field":"v","type":"quantitative","scale":{"domain":[0.5,1.5],"zero":false,"nice":false},"axis":null},"stroke":{"field":"g"}}},
{"mark":"line","encoding":{"x":{"field":"t","type":"quantitative","axis":{"values":[-200,200,600],"labels":true,"labelOverlap":false,"labelFlush":false,"labelBound":false,"ticks":true,"tickSize":2,"labelFontSize":6,"labelPadding":2,"title":"time [ms]","titleFontSize":6.5,"titlePadding":1}},"y":{"field":"v","type":"quantitative","axis":null},"stroke":{"field":"g"}}}]},
{"title":"C3","data":{"name":"d"},"transform":[{"filter":"datum.p=='AC3'"}],"layer":[
{"mark":{"type":"rect","fill":"#f7f31e","fillOpacity":0.55,"stroke":null},"encoding":{"x":{"field":"t0","type":"quantitative","scale":{"domain":[-300,800],"nice":false},"axis":null},"x2":{"field":"t1"}}},
{"mark":"rect","encoding":{"x":{"field":"s0","type":"quantitative","axis":null},"x2":{"field":"s1"}}},
{"mark":{"type":"line","strokeWidth":7,"opacity":0.28},"encoding":{"x":{"field":"t","type":"quantitative","axis":null},"y":{"field":"v","type":"quantitative","scale":{"domain":[0.5,1.5],"zero":false,"nice":false},"axis":null},"stroke":{"field":"g"}}},
{"mark":"line","encoding":{"x":{"field":"t","type":"quantitative","axis":null},"y":{"field":"v","type":"quantitative","axis":null},"stroke":{"field":"g"}}}]},
{"title":"Cz","data":{"name":"d"},"transform":[{"filter":"datum.p=='ACz'"}],"layer":[
{"mark":{"type":"rect","fill":"#f7f31e","fillOpacity":0.55,"stroke":null},"encoding":{"x":{"field":"t0","type":"quantitative","scale":{"domain":[-300,800],"nice":false},"axis":null},"x2":{"field":"t1"}}},
{"mark":"rect","encoding":{"x":{"field":"s0","type":"quantitative","axis":null},"x2":{"field":"s1"}}},
{"mark":{"type":"line","strokeWidth":7,"opacity":0.28},"encoding":{"x":{"field":"t","type":"quantitative","axis":null},"y":{"field":"v","type":"quantitative","scale":{"domain":[0.5,1.5],"zero":false,"nice":false},"axis":null},"stroke":{"field":"g"}}},
{"mark":"line","encoding":{"x":{"field":"t","type":"quantitative","axis":null},"y":{"field":"v","type":"quantitative","axis":null},"stroke":{"field":"g"}}}]},
{"title":"C4","data":{"name":"d"},"transform":[{"filter":"datum.p=='AC4'"}],"layer":[
{"mark":{"type":"rect","fill":"#f7f31e","fillOpacity":0.55,"stroke":null},"encoding":{"x":{"field":"t0","type":"quantitative","scale":{"domain":[-300,800],"nice":false},"axis":null},"x2":{"field":"t1"}}},
{"mark":"rect","encoding":{"x":{"field":"s0","type":"quantitative","axis":null},"x2":{"field":"s1"}}},
{"mark":{"type":"line","strokeWidth":7,"opacity":0.28},"encoding":{"x":{"field":"t","type":"quantitative","axis":null},"y":{"field":"v","type":"quantitative","scale":{"domain":[0.5,1.5],"zero":false,"nice":false},"axis":null},"stroke":{"field":"g"}}},
{"mark":"line","encoding":{"x":{"field":"t","type":"quantitative","axis":null},"y":{"field":"v","type":"quantitative","axis":null},"stroke":{"field":"g"}}}]},
{"title":"T4","data":{"name":"d"},"transform":[{"filter":"datum.p=='AT4'"}],"layer":[
{"mark":{"type":"rect","fill":"#f7f31e","fillOpacity":0.55,"stroke":null},"encoding":{"x":{"field":"t0","type":"quantitative","scale":{"domain":[-300,800],"nice":false},"axis":null},"x2":{"field":"t1"}}},
{"mark":"rect","encoding":{"x":{"field":"s0","type":"quantitative","axis":null},"x2":{"field":"s1"}}},
{"mark":{"type":"line","strokeWidth":7,"opacity":0.28},"encoding":{"x":{"field":"t","type":"quantitative","axis":null},"y":{"field":"v","type":"quantitative","scale":{"domain":[0.5,1.5],"zero":false,"nice":false},"axis":null},"stroke":{"field":"g"}}},
{"mark":"line","encoding":{"x":{"field":"t","type":"quantitative","axis":null},"y":{"field":"v","type":"quantitative","axis":null},"stroke":{"field":"g"}}}]},
{"width":10,"height":1,"view":{"stroke":null},"data":{"values":[{}]},"mark":{"type":"text","text":""}},
{"title":"T3","data":{"name":"d"},"transform":[{"filter":"datum.p=='BT3'"}],"layer":[
{"mark":{"type":"rect","fill":"#f7f31e","fillOpacity":0.55,"stroke":null},"encoding":{"x":{"field":"t0","type":"quantitative","scale":{"domain":[-300,800],"nice":false},"axis":{"values":[-200,200,600],"labels":true,"labelOverlap":false,"labelFlush":false,"labelBound":false,"ticks":true,"tickSize":2,"labelFontSize":6,"labelPadding":2,"title":"time [ms]","titleFontSize":6.5,"titlePadding":1}},"x2":{"field":"t1"}}},
{"mark":"rect","encoding":{"x":{"field":"s0","type":"quantitative","axis":{"values":[-200,200,600],"labels":true,"labelOverlap":false,"labelFlush":false,"labelBound":false,"ticks":true,"tickSize":2,"labelFontSize":6,"labelPadding":2,"title":"time [ms]","titleFontSize":6.5,"titlePadding":1}},"x2":{"field":"s1"}}},
{"mark":{"type":"line","strokeWidth":7,"opacity":0.28},"encoding":{"x":{"field":"t","type":"quantitative","axis":{"values":[-200,200,600],"labels":true,"labelOverlap":false,"labelFlush":false,"labelBound":false,"ticks":true,"tickSize":2,"labelFontSize":6,"labelPadding":2,"title":"time [ms]","titleFontSize":6.5,"titlePadding":1}},"y":{"field":"v","type":"quantitative","scale":{"domain":[0.5,1.5],"zero":false,"nice":false},"axis":null},"stroke":{"field":"g"}}},
{"mark":"line","encoding":{"x":{"field":"t","type":"quantitative","axis":{"values":[-200,200,600],"labels":true,"labelOverlap":false,"labelFlush":false,"labelBound":false,"ticks":true,"tickSize":2,"labelFontSize":6,"labelPadding":2,"title":"time [ms]","titleFontSize":6.5,"titlePadding":1}},"y":{"field":"v","type":"quantitative","axis":null},"stroke":{"field":"g"}}}]},
{"title":"C3","data":{"name":"d"},"transform":[{"filter":"datum.p=='BC3'"}],"layer":[
{"mark":{"type":"rect","fill":"#f7f31e","fillOpacity":0.55,"stroke":null},"encoding":{"x":{"field":"t0","type":"quantitative","scale":{"domain":[-300,800],"nice":false},"axis":null},"x2":{"field":"t1"}}},
{"mark":"rect","encoding":{"x":{"field":"s0","type":"quantitative","axis":null},"x2":{"field":"s1"}}},
{"mark":{"type":"line","strokeWidth":7,"opacity":0.28},"encoding":{"x":{"field":"t","type":"quantitative","axis":null},"y":{"field":"v","type":"quantitative","scale":{"domain":[0.5,1.5],"zero":false,"nice":false},"axis":null},"stroke":{"field":"g"}}},
{"mark":"line","encoding":{"x":{"field":"t","type":"quantitative","axis":null},"y":{"field":"v","type":"quantitative","axis":null},"stroke":{"field":"g"}}}]},
{"title":"Cz","data":{"name":"d"},"transform":[{"filter":"datum.p=='BCz'"}],"layer":[
{"mark":{"type":"rect","fill":"#f7f31e","fillOpacity":0.55,"stroke":null},"encoding":{"x":{"field":"t0","type":"quantitative","scale":{"domain":[-300,800],"nice":false},"axis":null},"x2":{"field":"t1"}}},
{"mark":"rect","encoding":{"x":{"field":"s0","type":"quantitative","axis":null},"x2":{"field":"s1"}}},
{"mark":{"type":"line","strokeWidth":7,"opacity":0.28},"encoding":{"x":{"field":"t","type":"quantitative","axis":null},"y":{"field":"v","type":"quantitative","scale":{"domain":[0.5,1.5],"zero":false,"nice":false},"axis":null},"stroke":{"field":"g"}}},
{"mark":"line","encoding":{"x":{"field":"t","type":"quantitative","axis":null},"y":{"field":"v","type":"quantitative","axis":null},"stroke":{"field":"g"}}}]},
{"title":"C4","data":{"name":"d"},"transform":[{"filter":"datum.p=='BC4'"}],"layer":[
{"mark":{"type":"rect","fill":"#f7f31e","fillOpacity":0.55,"stroke":null},"encoding":{"x":{"field":"t0","type":"quantitative","scale":{"domain":[-300,800],"nice":false},"axis":null},"x2":{"field":"t1"}}},
{"mark":"rect","encoding":{"x":{"field":"s0","type":"quantitative","axis":null},"x2":{"field":"s1"}}},
{"mark":{"type":"line","strokeWidth":7,"opacity":0.28},"encoding":{"x":{"field":"t","type":"quantitative","axis":null},"y":{"field":"v","type":"quantitative","scale":{"domain":[0.5,1.5],"zero":false,"nice":false},"axis":null},"stroke":{"field":"g"}}},
{"mark":"line","encoding":{"x":{"field":"t","type":"quantitative","axis":null},"y":{"field":"v","type":"quantitative","axis":null},"stroke":{"field":"g"}}}]},
{"title":"T4","data":{"name":"d"},"transform":[{"filter":"datum.p=='BT4'"}],"layer":[
{"mark":{"type":"rect","fill":"#f7f31e","fillOpacity":0.55,"stroke":null},"encoding":{"x":{"field":"t0","type":"quantitative","scale":{"domain":[-300,800],"nice":false},"axis":null},"x2":{"field":"t1"}}},
{"mark":"rect","encoding":{"x":{"field":"s0","type":"quantitative","axis":null},"x2":{"field":"s1"}}},
{"mark":{"type":"line","strokeWidth":7,"opacity":0.28},"encoding":{"x":{"field":"t","type":"quantitative","axis":null},"y":{"field":"v","type":"quantitative","scale":{"domain":[0.5,1.5],"zero":false,"nice":false},"axis":null},"stroke":{"field":"g"}}},
{"mark":"line","encoding":{"x":{"field":"t","type":"quantitative","axis":null},"y":{"field":"v","type":"quantitative","axis":null},"stroke":{"field":"g"}}}]},
{"width":1,"height":1,"view":{"stroke":null},"data":{"values":[{}]},"mark":{"type":"text","text":""}},
{"title":"P3","data":{"name":"d"},"transform":[{"filter":"datum.p=='AP3'"}],"layer":[
{"mark":{"type":"rect","fill":"#f7f31e","fillOpacity":0.55,"stroke":null},"encoding":{"x":{"field":"t0","type":"quantitative","scale":{"domain":[-300,800],"nice":false},"axis":null},"x2":{"field":"t1"}}},
{"mark":"rect","encoding":{"x":{"field":"s0","type":"quantitative","axis":null},"x2":{"field":"s1"}}},
{"mark":{"type":"line","strokeWidth":7,"opacity":0.28},"encoding":{"x":{"field":"t","type":"quantitative","axis":null},"y":{"field":"v","type":"quantitative","scale":{"domain":[0.5,1.5],"zero":false,"nice":false},"axis":null},"stroke":{"field":"g"}}},
{"mark":"line","encoding":{"x":{"field":"t","type":"quantitative","axis":null},"y":{"field":"v","type":"quantitative","axis":null},"stroke":{"field":"g"}}}]},
{"title":"Pz","data":{"name":"d"},"transform":[{"filter":"datum.p=='APz'"}],"layer":[
{"mark":{"type":"rect","fill":"#f7f31e","fillOpacity":0.55,"stroke":null},"encoding":{"x":{"field":"t0","type":"quantitative","scale":{"domain":[-300,800],"nice":false},"axis":null},"x2":{"field":"t1"}}},
{"mark":"rect","encoding":{"x":{"field":"s0","type":"quantitative","axis":null},"x2":{"field":"s1"}}},
{"mark":{"type":"line","strokeWidth":7,"opacity":0.28},"encoding":{"x":{"field":"t","type":"quantitative","axis":null},"y":{"field":"v","type":"quantitative","scale":{"domain":[0.5,1.5],"zero":false,"nice":false},"axis":null},"stroke":{"field":"g"}}},
{"mark":"line","encoding":{"x":{"field":"t","type":"quantitative","axis":null},"y":{"field":"v","type":"quantitative","axis":null},"stroke":{"field":"g"}}}]},
{"title":"P4","data":{"name":"d"},"transform":[{"filter":"datum.p=='AP4'"}],"layer":[
{"mark":{"type":"rect","fill":"#f7f31e","fillOpacity":0.55,"stroke":null},"encoding":{"x":{"field":"t0","type":"quantitative","scale":{"domain":[-300,800],"nice":false},"axis":null},"x2":{"field":"t1"}}},
{"mark":"rect","encoding":{"x":{"field":"s0","type":"quantitative","axis":null},"x2":{"field":"s1"}}},
{"mark":{"type":"line","strokeWidth":7,"opacity":0.28},"encoding":{"x":{"field":"t","type":"quantitative","axis":null},"y":{"field":"v","type":"quantitative","scale":{"domain":[0.5,1.5],"zero":false,"nice":false},"axis":null},"stroke":{"field":"g"}}},
{"mark":"line","encoding":{"x":{"field":"t","type":"quantitative","axis":null},"y":{"field":"v","type":"quantitative","axis":null},"stroke":{"field":"g"}}}]},
{"width":1,"height":1,"view":{"stroke":null},"data":{"values":[{}]},"mark":{"type":"text","text":""}},
{"width":10,"height":1,"view":{"stroke":null},"data":{"values":[{}]},"mark":{"type":"text","text":""}},
{"width":1,"height":1,"view":{"stroke":null},"data":{"values":[{}]},"mark":{"type":"text","text":""}},
{"title":"P3","data":{"name":"d"},"transform":[{"filter":"datum.p=='BP3'"}],"layer":[
{"mark":{"type":"rect","fill":"#f7f31e","fillOpacity":0.55,"stroke":null},"encoding":{"x":{"field":"t0","type":"quantitative","scale":{"domain":[-300,800],"nice":false},"axis":null},"x2":{"field":"t1"}}},
{"mark":"rect","encoding":{"x":{"field":"s0","type":"quantitative","axis":null},"x2":{"field":"s1"}}},
{"mark":{"type":"line","strokeWidth":7,"opacity":0.28},"encoding":{"x":{"field":"t","type":"quantitative","axis":null},"y":{"field":"v","type":"quantitative","scale":{"domain":[0.5,1.5],"zero":false,"nice":false},"axis":null},"stroke":{"field":"g"}}},
{"mark":"line","encoding":{"x":{"field":"t","type":"quantitative","axis":null},"y":{"field":"v","type":"quantitative","axis":null},"stroke":{"field":"g"}}}]},
{"title":"Pz","data":{"name":"d"},"transform":[{"filter":"datum.p=='BPz'"}],"layer":[
{"mark":{"type":"rect","fill":"#f7f31e","fillOpacity":0.55,"stroke":null},"encoding":{"x":{"field":"t0","type":"quantitative","scale":{"domain":[-300,800],"nice":false},"axis":null},"x2":{"field":"t1"}}},
{"mark":"rect","encoding":{"x":{"field":"s0","type":"quantitative","axis":null},"x2":{"field":"s1"}}},
{"mark":{"type":"line","strokeWidth":7,"opacity":0.28},"encoding":{"x":{"field":"t","type":"quantitative","axis":null},"y":{"field":"v","type":"quantitative","scale":{"domain":[0.5,1.5],"zero":false,"nice":false},"axis":null},"stroke":{"field":"g"}}},
{"mark":"line","encoding":{"x":{"field":"t","type":"quantitative","axis":null},"y":{"field":"v","type":"quantitative","axis":null},"stroke":{"field":"g"}}}]},
{"title":"P4","data":{"name":"d"},"transform":[{"filter":"datum.p=='BP4'"}],"layer":[
{"mark":{"type":"rect","fill":"#f7f31e","fillOpacity":0.55,"stroke":null},"encoding":{"x":{"field":"t0","type":"quantitative","scale":{"domain":[-300,800],"nice":false},"axis":null},"x2":{"field":"t1"}}},
{"mark":"rect","encoding":{"x":{"field":"s0","type":"quantitative","axis":null},"x2":{"field":"s1"}}},
{"mark":{"type":"line","strokeWidth":7,"opacity":0.28},"encoding":{"x":{"field":"t","type":"quantitative","axis":null},"y":{"field":"v","type":"quantitative","scale":{"domain":[0.5,1.5],"zero":false,"nice":false},"axis":null},"stroke":{"field":"g"}}},
{"mark":"line","encoding":{"x":{"field":"t","type":"quantitative","axis":null},"y":{"field":"v","type":"quantitative","axis":null},"stroke":{"field":"g"}}}]},
{"width":1,"height":1,"view":{"stroke":null},"data":{"values":[{}]},"mark":{"type":"text","text":""}},
{"width":1,"height":1,"view":{"stroke":null},"data":{"values":[{}]},"mark":{"type":"text","text":""}},
{"width":1,"height":1,"view":{"stroke":null},"data":{"values":[{}]},"mark":{"type":"text","text":""}},
{"title":"Oz","data":{"name":"d"},"transform":[{"filter":"datum.p=='AOz'"}],"layer":[
{"mark":{"type":"rect","fill":"#f7f31e","fillOpacity":0.55,"stroke":null},"encoding":{"x":{"field":"t0","type":"quantitative","scale":{"domain":[-300,800],"nice":false},"axis":null},"x2":{"field":"t1"}}},
{"mark":"rect","encoding":{"x":{"field":"s0","type":"quantitative","axis":null},"x2":{"field":"s1"}}},
{"mark":{"type":"line","strokeWidth":7,"opacity":0.28},"encoding":{"x":{"field":"t","type":"quantitative","axis":null},"y":{"field":"v","type":"quantitative","scale":{"domain":[0.5,1.5],"zero":false,"nice":false},"axis":null},"stroke":{"field":"g"}}},
{"mark":"line","encoding":{"x":{"field":"t","type":"quantitative","axis":null},"y":{"field":"v","type":"quantitative","axis":null},"stroke":{"field":"g"}}}]},
{"width":1,"height":1,"view":{"stroke":null},"data":{"values":[{}]},"mark":{"type":"text","text":""}},
{"width":1,"height":1,"view":{"stroke":null},"data":{"values":[{}]},"mark":{"type":"text","text":""}},
{"width":10,"height":1,"view":{"stroke":null},"data":{"values":[{}]},"mark":{"type":"text","text":""}},
{"width":1,"height":1,"view":{"stroke":null},"data":{"values":[{}]},"mark":{"type":"text","text":""}},
{"width":1,"height":1,"view":{"stroke":null},"data":{"values":[{}]},"mark":{"type":"text","text":""}},
{"title":"Oz","data":{"name":"d"},"transform":[{"filter":"datum.p=='BOz'"}],"layer":[
{"mark":{"type":"rect","fill":"#f7f31e","fillOpacity":0.55,"stroke":null},"encoding":{"x":{"field":"t0","type":"quantitative","scale":{"domain":[-300,800],"nice":false},"axis":null},"x2":{"field":"t1"}}},
{"mark":"rect","encoding":{"x":{"field":"s0","type":"quantitative","axis":null},"x2":{"field":"s1"}}},
{"mark":{"type":"line","strokeWidth":7,"opacity":0.28},"encoding":{"x":{"field":"t","type":"quantitative","axis":null},"y":{"field":"v","type":"quantitative","scale":{"domain":[0.5,1.5],"zero":false,"nice":false},"axis":null},"stroke":{"field":"g"}}},
{"mark":"line","encoding":{"x":{"field":"t","type":"quantitative","axis":null},"y":{"field":"v","type":"quantitative","axis":null},"stroke":{"field":"g"}}}]},
{"width":1,"height":1,"view":{"stroke":null},"data":{"values":[{}]},"mark":{"type":"text","text":""}},
{"width":1,"height":1,"view":{"stroke":null},"data":{"values":[{}]},"mark":{"type":"text","text":""}},
{"width":1,"height":158,"view":{"stroke":null},"data":{"name":"cap"},"encoding":{"y":{"field":"ln","type":"ordinal","scale":{"type":"point","padding":1.1333},"axis":null},"text":{"field":"tx"}},"layer":[
{"transform":[{"filter":"datum.b==1"}],"mark":{"type":"text","align":"left","baseline":"alphabetic","font":"Liberation Serif","fontSize":19,"fontWeight":"bold","color":"#111","dx":-31}},
{"transform":[{"filter":"datum.b==0 && datum.ln==0"}],"mark":{"type":"text","align":"left","baseline":"alphabetic","font":"Liberation Serif","fontSize":23,"color":"#111","dx":48}},
{"transform":[{"filter":"datum.ln>0"}],"mark":{"type":"text","align":"left","baseline":"alphabetic","font":"Liberation Serif","fontSize":23,"color":"#111","dx":-31}}
]}
]
}
